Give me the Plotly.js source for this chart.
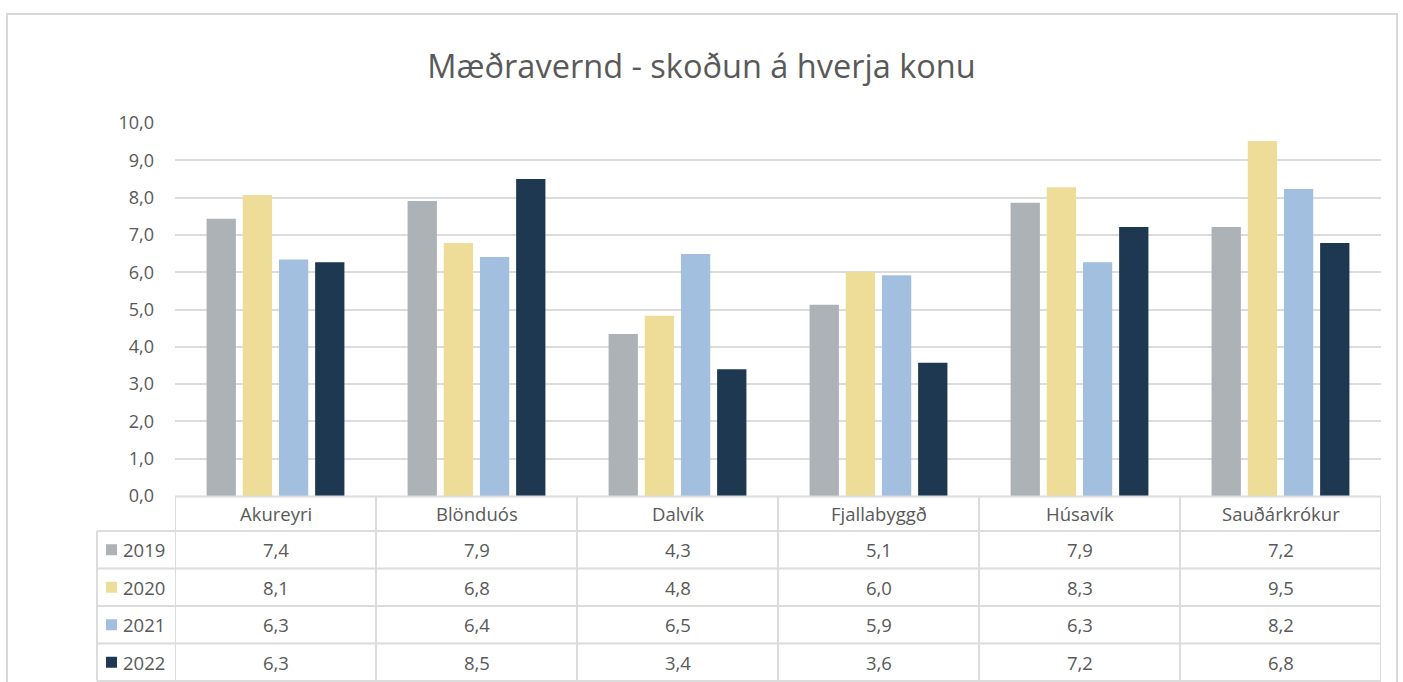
<!DOCTYPE html>
<html><head><meta charset="utf-8">
<script src="https://cdn.plot.ly/plotly-3.0.1.min.js"></script>
<style>html,body{margin:0;padding:0;background:#fff}#chart{width:1403px;height:682px}</style>
</head><body><div id="chart"></div>
<script>
const categories = ['Akureyri','Blönduós','Dalvík','Fjallabyggð','Húsavík','Sauðárkrókur'];
const years = ['2019','2020','2021','2022'];
const v2019 = [7.43,7.91,4.34,5.13,7.86,7.21];
const v2020 = [8.07,6.78,4.83,6.01,8.28,9.52];
const v2021 = [6.34,6.41,6.49,5.92,6.27,8.23];
const v2022 = [6.27,8.50,3.40,3.57,7.21,6.78];
const colors = ['#ADB2B6','#EEDD98','#A2BFDF','#1E3852'];
const titleText = 'Mæðravernd - skoðun á hverja konu';

const series = [v2019, v2020, v2021, v2022];
const TXT = '#595959', LINE = '#dcdcdc';
const L = 175, R = 1381, T = 123, B = 496, W = R - L, H = B - T;
const px = p => (p - L) / W;
const py = p => (B - p) / H;
const fmt = v => v.toFixed(1).replace('.', ',');

const traces = series.map((vals, i) => ({
  type: 'bar', name: years[i], x: categories, y: vals,
  marker: {color: colors[i], line: {width: 0}}, hoverinfo: 'skip'
}));

const shapes = [];
const annotations = [];
shapes.push({type:'rect', xref:'paper', yref:'paper', x0:px(7), x1:px(1397), y0:py(14), y1:py(720), line:{color:'#d9d9d9', width:2}, layer:'below'});
const headerTop = 496.5, headerBottom = 531, rowH = 37.5;
shapes.push({type:'line', xref:'paper', yref:'paper', x0:px(L), x1:px(R), y0:py(headerTop), y1:py(headerTop), line:{color:LINE, width:2}});
for (let r = 0; r <= years.length; r++) {
  const yy = headerBottom + r * rowH;
  shapes.push({type:'line', xref:'paper', yref:'paper', x0:px(97), x1:px(R), y0:py(yy), y1:py(yy), line:{color:LINE, width:2}});
}
const tableBottom = headerBottom + years.length * rowH;
for (let c = 0; c <= categories.length; c++) {
  shapes.push({type:'line', xref:'x', yref:'paper', x0:c - 0.5, x1:c - 0.5, y0:py(headerTop), y1:py(tableBottom), line:{color:LINE, width:2}});
}
shapes.push({type:'line', xref:'paper', yref:'paper', x0:px(97), x1:px(97), y0:py(headerBottom), y1:py(tableBottom), line:{color:LINE, width:2}});

const font = {family:'Open Sans, sans-serif', size:18.5, color:TXT};
categories.forEach((c, i) => {
  annotations.push({xref:'x', yref:'paper', x:c, y:py((headerTop + headerBottom) / 2), text:c, showarrow:false, font:font, xanchor:'center', yanchor:'middle'});
});
years.forEach((yr, r) => {
  const cy = headerBottom + r * rowH + rowH / 2;
  shapes.push({type:'rect', xref:'paper', yref:'paper', x0:px(106), x1:px(117), y0:py(cy + 5.5), y1:py(cy - 5.5), fillcolor:colors[r], line:{width:0}});
  annotations.push({xref:'paper', yref:'paper', x:px(121), y:py(cy), text:yr, showarrow:false, font:font, xanchor:'left', yanchor:'middle'});
  series[r].forEach((v, i) => {
    annotations.push({xref:'x', yref:'paper', x:categories[i], y:py(cy), text:fmt(v), showarrow:false, font:font, xanchor:'center', yanchor:'middle'});
  });
});

const layout = {
  width:1403, height:682,
  margin:{l:L, r:1403 - R, t:T, b:682 - B, pad:0},
  paper_bgcolor:'#ffffff', plot_bgcolor:'#ffffff',
  separators:', ',
  font:{family:'Open Sans, sans-serif', color:TXT},
  title:{text:titleText, font:{family:'Open Sans, sans-serif', size:32.5, color:TXT}, xref:'container', x:0.5, xanchor:'center', yref:'container', y:1 - 67/682, yanchor:'middle'},
  showlegend:false,
  barmode:'group', bargap:0.28, bargroupgap:0.19,
  xaxis:{type:'category', range:[-0.5, categories.length - 0.5], showticklabels:false, showgrid:false, zeroline:false, showline:false, fixedrange:true},
  yaxis:{range:[0,10], dtick:1, tick0:0, tickformat:'.1f', showgrid:true, gridcolor:LINE, gridwidth:2, zeroline:false, showline:false, ticks:'', ticklabelstandoff:20, tickfont:{family:'Open Sans, sans-serif', size:18, color:TXT}, fixedrange:true},
  shapes:shapes, annotations:annotations
};
Plotly.newPlot('chart', traces, layout, {displayModeBar:false, staticPlot:true});
</script></body></html>
